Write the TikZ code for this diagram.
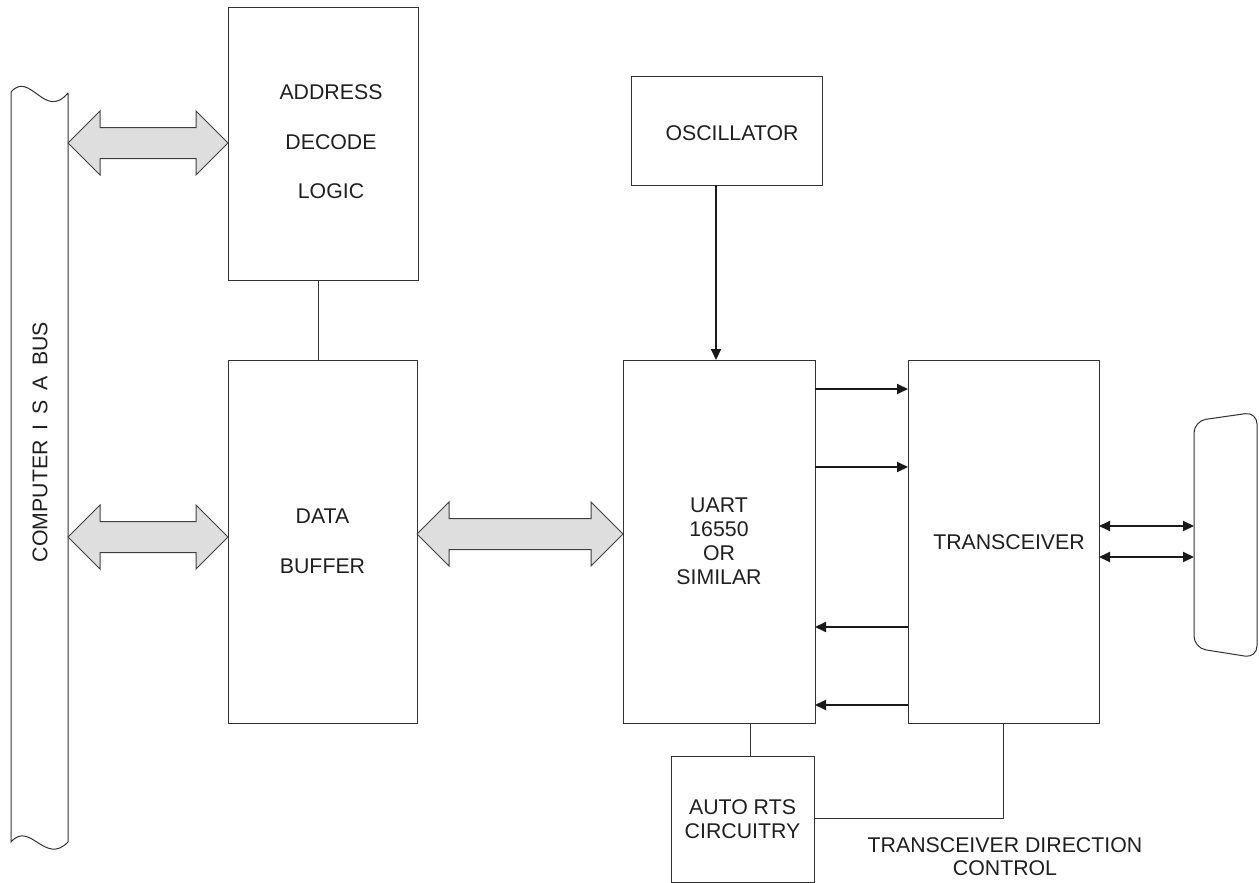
\documentclass[tikz,border=0pt]{standalone}
\usepackage{fontspec}
\setmainfont{Liberation Sans}
\usetikzlibrary{arrows.meta,calc}
\newcommand\fatarrow[2]{%
  \draw[fat] let \p1=(#1), \p2=(#2) in
    (\x1,\y1) -- (\x1+32pt,\y1+32pt) -- (\x1+32pt,\y1+15.5pt) -- (\x2-32pt,\y1+15.5pt)
    -- (\x2-32pt,\y1+32pt) -- (\x2,\y1) -- (\x2-32pt,\y1-32pt) -- (\x2-32pt,\y1-15.5pt)
    -- (\x1+32pt,\y1-15.5pt) -- (\x1+32pt,\y1-32pt) -- cycle;}
\newcommand\bgap{\hspace{10pt}}
\begin{document}
\begin{tikzpicture}[x=1pt,y=-1pt,
  box/.style={draw=black!80, line width=1pt, inner sep=0pt, outer sep=0pt},
  txt/.style={font=\fontsize{21.3}{24}\selectfont, text=black!88, align=center, inner sep=0pt},
  wire/.style={draw=black!80, line width=1pt},
  sig/.style={draw=black!90, line width=2pt, -{Triangle[length=11pt,width=10pt]}},
  sigb/.style={draw=black!90, line width=2pt, {Triangle[length=11pt,width=10pt]}-{Triangle[length=11pt,width=10pt]}},
  fat/.style={draw=black!75, fill=black!13, line width=1pt, line join=miter}]
\useasboundingbox (0,0) rectangle (1259,883);

% ISA bus
\draw[wire] (68,93) -- (68,842) .. controls (45,866) and (30,820) .. (11,842)
  -- (11,92) .. controls (30,70) and (45,121) .. (68,93);
\coordinate (busR) at (68,450);
\node[txt, rotate=90] (bustxt) at (40,442) {COMPUTER\bgap I\bgap S\bgap A\bgap BUS};

% boxes
\node[box, minimum width=190, minimum height=272] (addr) at (323,144) {};
\node[txt, font=\fontsize{21.3}{49.5}\selectfont] (addrtxt) at ([xshift=8pt,yshift=2pt]addr.center) {ADDRESS\\DECODE\\LOGIC};

\node[box, minimum width=189, minimum height=363, txt, font=\fontsize{21.3}{50}\selectfont] (data) at (322.5,541.5) {DATA\\BUFFER};

\node[box, minimum width=191, minimum height=108] (osc) at (726.5,131) {};
\node[txt] (osctxt) at ([xshift=5.5pt,yshift=-2pt]osc.center) {OSCILLATOR};

\node[box, minimum width=192, minimum height=363, txt] (uart) at (719,541.5) {UART\\16550\\OR\\SIMILAR};

\node[box, minimum width=191, minimum height=363] (trx) at (1003.5,541.5) {};
\node[txt] (trxtxt) at ([xshift=5.5pt,yshift=-0.5pt]trx.center) {TRANSCEIVER};

\node[box, minimum width=143, minimum height=126, txt] (rts) at (742.5,819) {AUTO RTS\\CIRCUITRY};

\node[txt, font=\fontsize{21.3}{23}\selectfont] (dirtxt) at (1005,856.5) {TRANSCEIVER DIRECTION\\CONTROL};

% connector (DB)
\draw[wire, rounded corners=12pt] (1194,540) -- (1194,421) -- (1257,412) -- (1257,658) -- (1194,648) -- cycle;
\coordinate (db) at (1194,540);

% fat bus arrows
\fatarrow{busR |- 0,143}{addr.west |- 0,143}
\fatarrow{busR |- 0,537}{data.west |- 0,537}
\fatarrow{data.east |- 0,534}{uart.west |- 0,534}

% wires
\draw[wire] ([xshift=-5pt]addr.south) -- ([xshift=-5pt]addr.south |- data.north);
\draw[sig] ([xshift=-10.5pt]osc.south) -- ([xshift=-10.5pt]osc.south |- uart.north);
\draw[sig] (uart.east |- 0,389) -- (trx.west |- 0,389);
\draw[sig] (uart.east |- 0,467) -- (trx.west |- 0,467);
\draw[sig] (trx.west |- 0,627) -- (uart.east |- 0,627);
\draw[sig] (trx.west |- 0,705) -- (uart.east |- 0,705);
\draw[sigb] (trx.east |- 0,526) -- (db |- 0,526);
\draw[sigb] (trx.east |- 0,557) -- (db |- 0,557);
\draw[wire] (uart.south -| 750,0) -- (rts.north -| 750,0);
\draw[wire] (rts.east |- 0,818) -| (trx.south);
\end{tikzpicture}
\end{document}
